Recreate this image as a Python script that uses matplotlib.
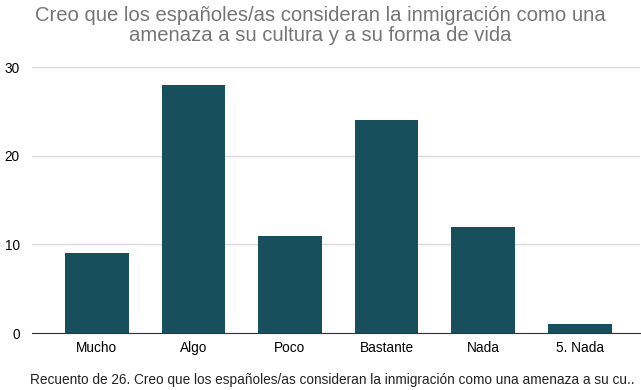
import matplotlib.pyplot as plt

categories = ['Mucho', 'Algo', 'Poco', 'Bastante', 'Nada', '5. Nada']
counts = [9, 28, 11, 24, 12, 1]
yticks = [0, 10, 20, 30]

plt.rcParams['font.family'] = ['Liberation Sans', 'DejaVu Sans']

fig = plt.figure(figsize=(6.41, 3.90), dpi=100)
ax = fig.add_axes([0.050, 0.146, 0.948, 0.682])

ax.bar(range(len(categories)), counts, width=0.66, color='#17505c', zorder=3)

ax.set_xlim(-0.67, 5.62)
ax.set_ylim(0, 30)
ax.set_yticks(yticks)
ax.set_xticks(range(len(categories)))
ax.set_xticklabels(categories, fontsize=9.8)
ax.tick_params(axis='y', labelsize=9.8, length=0, pad=9)
ax.tick_params(axis='x', length=0, pad=6)
ax.grid(axis='y', color='#d9d9d9', linewidth=1, zorder=0)
for s in ['top', 'right', 'left']:
    ax.spines[s].set_visible(False)
ax.spines['bottom'].set_color('#333333')
ax.spines['bottom'].set_zorder(4)

fig.text(0.5, 0.985, 'Creo que los españoles/as consideran la inmigración como una\namenaza a su cultura y a su forma de vida',
         ha='center', va='top', fontsize=14.6, color='#757575', linespacing=1.1)
fig.text(0.047, 0.008, 'Recuento de 26. Creo que los españoles/as consideran la inmigración como una amenaza a su cu..',
         ha='left', va='bottom', fontsize=9.8, color='#222222')

plt.savefig('out.png', dpi=100)
